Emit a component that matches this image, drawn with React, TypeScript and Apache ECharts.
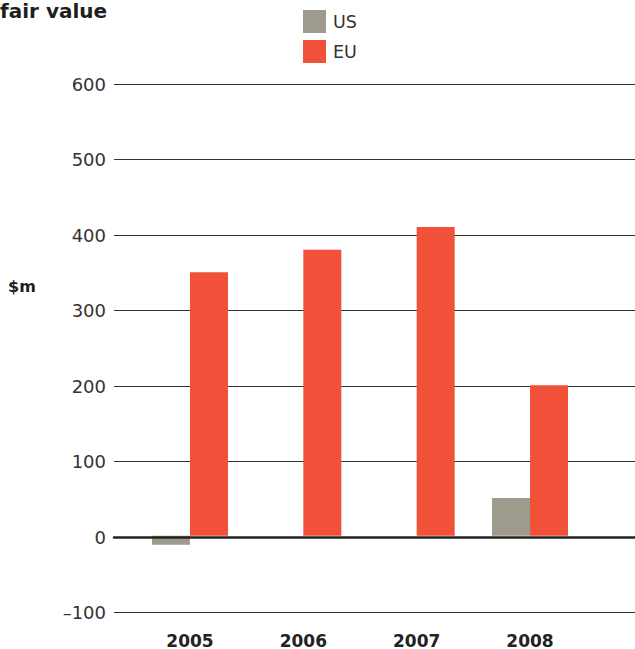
import React, { useEffect, useRef } from "react";
import * as echarts from "echarts";

const categories = ["2005", "2006", "2007", "2008"];
const usValues = [-12, 0, 0, 50];
const euValues = [350, 380, 410, 200];
const yMin = -100;
const yMax = 600;
const yStep = 100;

const FONT = "'DejaVu Sans', 'Open Sans', sans-serif";

export default function App() {
  const ref = useRef<HTMLDivElement>(null);
  useEffect(() => {
    if (!ref.current) return;
    const chart = echarts.init(ref.current, null, { renderer: "svg" });
    chart.setOption({
      animation: false,
      backgroundColor: "#ffffff",
      title: {
        text: "fair value",
        left: 0,
        top: 1,
        padding: 0,
        textStyle: { fontFamily: FONT, fontWeight: "bold", fontSize: 20, color: "#1e1e1e" },
      },
      legend: {
        orient: "vertical",
        left: 303,
        top: 10,
        padding: 0,
        itemWidth: 23,
        itemHeight: 23,
        itemGap: 7,
        icon: "rect",
        textStyle: { fontFamily: FONT, fontSize: 17.5, color: "#333", padding: [0, 0, 0, 2] },
        data: ["US", "EU"],
      },
      graphic: [
        {
          type: "text",
          left: 8,
          top: 278,
          style: { text: "$m", fontFamily: FONT, fontWeight: "bold", fontSize: 16, fill: "#1e1e1e" },
        },
      ],
      grid: [
        { left: 133.3, right: 48.3, top: 84, bottom: 36.5, containLabel: false },
        { left: 114, right: 0, top: 84, bottom: 36.5, containLabel: false },
      ],
      xAxis: [
        {
          type: "category",
          gridIndex: 0,
          data: categories,
          axisLine: { show: false },
          axisTick: { show: false },
          axisLabel: { fontFamily: FONT, fontWeight: "bold", fontSize: 17, color: "#222", margin: 21 },
        },
        {
          type: "value",
          gridIndex: 1,
          min: 0,
          max: 1,
          z: 5,
          axisLine: { show: true, onZero: true, lineStyle: { color: "#222", width: 2.5 } },
          axisTick: { show: false },
          axisLabel: { show: false },
          splitLine: { show: false },
        },
      ],
      yAxis: [
        {
          type: "value",
          gridIndex: 0,
          min: yMin,
          max: yMax,
          interval: yStep,
          axisLine: { show: false },
          axisTick: { show: false },
          axisLabel: { show: false },
          splitLine: { show: false },
        },
        {
          type: "value",
          gridIndex: 1,
          min: yMin,
          max: yMax,
          interval: yStep,
          axisLine: { show: false },
          axisTick: { show: false },
          axisLabel: {
            fontFamily: FONT,
            fontSize: 18,
            color: "#333",
            margin: 8,
            formatter: (v: number) => (v < 0 ? "\u2013" + Math.abs(v) : String(v)),
          },
          splitLine: { show: true, lineStyle: { color: "#333", width: 1 } },
        },
      ],
      series: [
        {
          name: "US",
          type: "bar",
          xAxisIndex: 0,
          yAxisIndex: 0,
          data: usValues,
          barWidth: 38,
          barGap: "0%",
          itemStyle: { color: "#9e9b8c" },
          z: 1,
        },
        {
          name: "EU",
          type: "bar",
          xAxisIndex: 0,
          yAxisIndex: 0,
          data: euValues,
          barWidth: 38,
          barGap: "0%",
          itemStyle: { color: "#f05138" },
          z: 1,
        },
      ],
    });
    return () => chart.dispose();
  }, []);
  return <div ref={ref} style={{ width: 635, height: 649, position: "fixed", left: 0, top: 0 }} />;
}
